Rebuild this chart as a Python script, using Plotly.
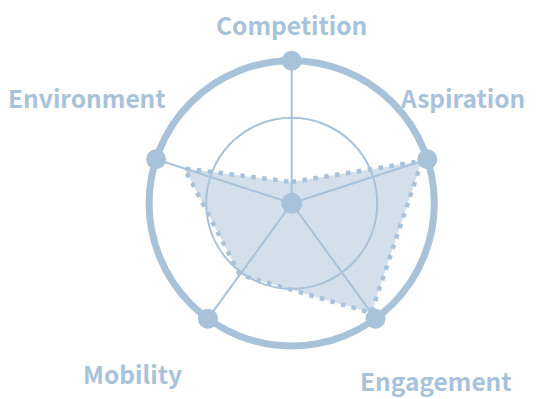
import plotly.graph_objects as go

# axes, clockwise from the top
categories = ['Competition', 'Aspiration', 'Engagement', 'Mobility', 'Environment']
scores = [15, 96, 95, 62, 79]
max_score = 100
inner_ring = 60

# label centres in page pixels (x, y)
label_pos = {'Competition': (291, 25),
             'Aspiration': (462, 97),
             'Engagement': (436, 380),
             'Mobility': (132, 373),
             'Environment': (87, 97)}

# the page body has an 8px margin, so the figure is drawn 8px in;
# the right ~9px of the window is not usable
OFF = 8
W, H = 519, 399 - OFF
BLUE = 'rgb(168,194,218)'
FILL = 'rgba(168,194,218,0.5)'

fig = go.Figure()

# filled profile with dotted edge
fig.add_trace(go.Scatterpolar(r=scores + scores[:1],
                              theta=categories + categories[:1],
                              mode='lines',
                              fill='toself',
                              fillcolor=FILL,
                              line=dict(color=BLUE, width=4.5, dash='4.5px,6.5px'),
                              hoverinfo='skip'))

# dots on the outer ring
fig.add_trace(go.Scatterpolar(r=[max_score] * len(categories),
                              theta=categories,
                              mode='markers',
                              marker=dict(color=BLUE, size=20),
                              hoverinfo='skip'))

# centre dot
fig.add_trace(go.Scatterpolar(r=[0],
                              theta=categories[:1],
                              mode='markers',
                              marker=dict(color=BLUE, size=21),
                              hoverinfo='skip'))

# polar sits in a square centred on (291.7, 203.3) of the page, radius 142.6
cx, cy, rad = 291.7 - OFF, 203.3 - OFF, 142.6
fig.update_layout(
    width=W, height=H,
    margin=dict(l=0, r=0, t=0, b=0),
    paper_bgcolor='white',
    showlegend=False,
    polar=dict(
        domain=dict(x=[(cx - rad) / W, (cx + rad) / W],
                    y=[1 - (cy + rad) / H, 1 - (cy - rad) / H]),
        bgcolor='white',
        radialaxis=dict(range=[0, max_score],
                        tickvals=[inner_ring],
                        showticklabels=False,
                        ticks='',
                        showline=False,
                        gridcolor=BLUE,
                        gridwidth=2.3),
        angularaxis=dict(rotation=90,
                         direction='clockwise',
                         showticklabels=False,
                         ticks='',
                         showline=True,
                         linecolor=BLUE,
                         linewidth=7,
                         gridcolor=BLUE,
                         gridwidth=2.3),
    ),
)

for name in categories:
    px, py = label_pos[name]
    fig.add_annotation(text=name,
                       x=(px - OFF) / W, y=1 - (py - OFF) / H,
                       xref='paper', yref='paper',
                       showarrow=False,
                       xanchor='center', yanchor='middle',
                       font=dict(family='Noto Sans CJK JP', size=24.5,
                                 color=BLUE, weight='bold'))

fig.write_html("out.html")
